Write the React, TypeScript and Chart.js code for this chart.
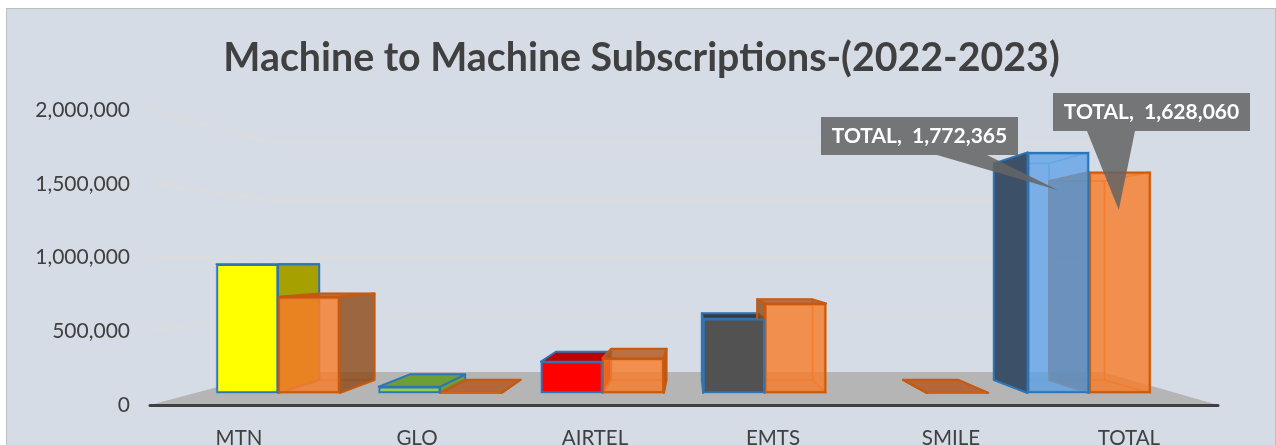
import React, { useEffect, useRef } from "react";
import { Chart, registerables } from "chart.js";

Chart.register(...registerables);

const FONT = "Lato";
const TITLE = "Machine to Machine Subscriptions-(2022-2023)";

const categories = ["MTN", "GLO", "AIRTEL", "EMTS", "SMILE", "TOTAL"];
const subscriptions2022 = [948000, 46365, 231000, 547000, 0, 1772365];
const subscriptions2023 = [708000, 2500, 256000, 660000, 1560, 1628060];
const axisTicks = [0, 500000, 1000000, 1500000, 2000000];

const frontColors2022 = ["#FFFF00", "#92D050", "#FF0000", "#525252", "#525252", "rgba(89,160,230,0.75)"];
const sideColors2022 = ["#A6A000", "#6E9E38", "#C00000", "#3A3A3A", "#3A3A3A", "#3C5068"];
const frontColor2023 = "rgba(248,124,40,0.8)";
const sideColor2023 = "rgba(140,72,22,0.8)";
const topColor2023 = "rgba(180,85,27,0.8)";
const edge2022 = "#2E75B6";
const edge2023 = "#C55A11";

// Perspective of the bars' depth and of the chart's wall/floor.
const barDepth = { vx: 690, vy: 263, k: 0.9 };
const roomDepth = { vx: 703, vy: 258, k: 0.776 };

type Pt = [number, number];
const project = (x: number, y: number, d: { vx: number; vy: number; k: number }): Pt => [
  d.vx + (x - d.vx) * d.k,
  d.vy + (y - d.vy) * d.k,
];

function poly(ctx: CanvasRenderingContext2D, pts: Pt[], fill?: string, stroke?: string, lw = 2) {
  ctx.beginPath();
  pts.forEach((p, i) => (i ? ctx.lineTo(p[0], p[1]) : ctx.moveTo(p[0], p[1])));
  ctx.closePath();
  if (fill) {
    ctx.fillStyle = fill;
    ctx.fill();
  }
  if (stroke) {
    ctx.strokeStyle = stroke;
    ctx.lineWidth = lw;
    ctx.lineJoin = "round";
    ctx.stroke();
  }
}

// Depth faces of one bar; the front face comes from the bar element itself.
function drawDepth(
  ctx: CanvasRenderingContext2D,
  bar: any,
  side: string,
  top: string,
  edge: string,
  inner: string,
) {
  const half = bar.width / 2;
  const l = bar.x - half;
  const r = bar.x + half;
  const t = bar.y;
  const b = bar.base;
  const bl = project(l, t, barDepth);
  const br = project(r, t, barDepth);
  const dl = project(l, b, barDepth);
  const dr = project(r, b, barDepth);

  poly(ctx, [bl, br, dr, dl], undefined, inner, 1.5);
  poly(ctx, [[l, b], [r, b], dr, dl], undefined, inner, 1.5);
  if (r > barDepth.vx) poly(ctx, [[r, t], br, dr, [r, b]], undefined, inner, 1.5);
  if (l < barDepth.vx) poly(ctx, [[l, t], bl, dl, [l, b]], undefined, inner, 1.5);
  if (t < barDepth.vy) poly(ctx, [[l, t], [r, t], br, bl], undefined, inner, 1.5);

  if (l > barDepth.vx) poly(ctx, [[l, t], bl, dl, [l, b]], side, edge);
  if (r < barDepth.vx) poly(ctx, [[r, t], br, dr, [r, b]], side, edge);
  if (t > barDepth.vy) poly(ctx, [[l, t], [r, t], br, bl], top, edge);
}

const room = {
  id: "room",
  beforeDatasetsDraw(chart: any) {
    const { ctx, chartArea: a, scales } = chart;
    const y = scales.y;
    ctx.save();

    // Floor of the plot
    const fl = project(a.left, a.bottom, roomDepth);
    const fr = project(a.right, a.bottom, roomDepth);
    poly(ctx, [[a.left, a.bottom], [a.right, a.bottom], fr, fl], "#B5B5B5");

    // Gridlines run along the left wall, then across the back wall
    ctx.strokeStyle = "#DDDCD9";
    ctx.lineWidth = 1.8;
    axisTicks.slice(1).forEach((v) => {
      const py = y.getPixelForValue(v);
      const p1 = project(a.left, py, roomDepth);
      const p2 = project(a.right, py, roomDepth);
      ctx.beginPath();
      ctx.moveTo(a.left, py - 1);
      ctx.lineTo(p1[0], p1[1]);
      ctx.lineTo(p2[0], p2[1]);
      ctx.stroke();
    });

    // Category axis line
    ctx.strokeStyle = "#404040";
    ctx.lineWidth = 3;
    ctx.lineCap = "round";
    ctx.beginPath();
    ctx.moveTo(a.left, a.bottom + 0.5);
    ctx.lineTo(a.right, a.bottom + 0.5);
    ctx.stroke();

    // Depth faces: the earlier series goes first so the later one sits over it
    const first = chart.getDatasetMeta(0).data;
    const second = chart.getDatasetMeta(1).data;
    first.forEach((bar: any, i: number) => {
      if (subscriptions2022[i] > 0) {
        drawDepth(ctx, bar, sideColors2022[i], sideColors2022[i], edge2022, "rgba(110,175,235,0.6)");
      }
    });
    second.forEach((bar: any) => {
      drawDepth(ctx, bar, sideColor2023, topColor2023, edge2023, "rgba(232,110,30,0.55)");
    });
    ctx.restore();
  },
  afterDatasetsDraw(chart: any) {
    const { ctx } = chart;
    const callouts = [
      { meta: 0, rect: [821, 117, 197, 38], tail: [937, 987], tip: [0, 38] },
      { meta: 1, rect: [1053, 93, 197, 38], tail: [1087, 1135], tip: [-1, 38] },
    ];
    const totals = [subscriptions2022[5], subscriptions2023[5]];
    ctx.save();
    callouts.forEach((c, i) => {
      const bar = chart.getDatasetMeta(c.meta).data[5];
      const [x, y, w, h] = c.rect;
      const tipX = bar.x + c.tip[0];
      const tipY = bar.y + c.tip[1];
      poly(
        ctx,
        [[x, y], [x + w, y], [x + w, y + h], [c.tail[1], y + h], [tipX, tipY], [c.tail[0], y + h], [x, y + h]],
        "rgba(100,100,100,0.86)",
      );
      ctx.fillStyle = "#FFFFFF";
      ctx.font = `bold 21px ${FONT}`;
      ctx.textAlign = "center";
      ctx.textBaseline = "middle";
      ctx.fillText(`${categories[5]},  ${totals[i].toLocaleString("en-US")}`, x + w / 2, y + h / 2);
    });
    ctx.restore();
  },
};

export default function App() {
  const ref = useRef<HTMLCanvasElement>(null);

  useEffect(() => {
    const chart = new Chart(ref.current!, {
      type: "bar",
      data: {
        labels: categories,
        datasets: [
          {
            label: "2022",
            data: subscriptions2022.map((y, x) => ({ x, y })),
            xAxisID: "xBars",
            yAxisID: "yBars",
            backgroundColor: frontColors2022,
            borderColor: subscriptions2022.map((v) => (v > 0 ? edge2022 : "transparent")),
            borderWidth: 2,
            borderSkipped: false,
            barThickness: 61.5,
          },
          {
            label: "2023",
            data: subscriptions2023.map((y, x) => ({ x, y })),
            xAxisID: "xBars",
            yAxisID: "yBars",
            backgroundColor: frontColor2023,
            borderColor: edge2023,
            borderWidth: 2,
            borderSkipped: false,
            barThickness: 61.5,
          },
        ],
      },
      options: {
        animation: false,
        responsive: false,
        layout: { padding: { left: 7, right: 0, top: 5, bottom: 0 } },
        plugins: {
          legend: { display: false },
          tooltip: { enabled: false },
          title: {
            display: true,
            text: TITLE,
            color: "#404040",
            font: { family: FONT, size: 39.3, weight: "bold", lineHeight: 1.2 },
            padding: { top: 30, bottom: 28 },
          },
        },
        scales: {
          x: {
            type: "category",
            offset: true,
            grid: { display: false },
            border: { display: false },
            ticks: { color: "#404040", font: { family: FONT, size: 20.5 }, padding: 13, maxRotation: 0 },
            afterFit: (s: any) => {
              s.height = 40;
            },
          },
          y: {
            min: 0,
            max: 2000000,
            grid: { display: false },
            border: { display: false },
            afterBuildTicks: (s: any) => {
              s.ticks = axisTicks.map((value) => ({ value }));
            },
            ticks: {
              color: "#404040",
              padding: 12,
              font: { family: FONT, size: 21 },
              callback: (v: any) => Number(v).toLocaleString("en-US"),
            },
            afterFit: (s: any) => {
              s.width = 143;
            },
          },
          // Bars stand on a plane set back from the axes, so they use their own scales.
          xBars: { type: "linear", display: false, offset: false, min: -0.7892, max: 5.795 },
          // Unlabelled, on the right: it also reserves the margin beside the plot.
          yBars: {
            type: "linear",
            position: "right",
            min: -88320,
            max: 2082880,
            grid: { display: false },
            border: { display: false },
            ticks: { display: false },
            afterFit: (s: any) => {
              s.width = 58;
            },
          },
        },
      },
      plugins: [room],
    } as any);
    return () => chart.destroy();
  }, []);

  return (
    <div
      style={{
        position: "fixed",
        left: 0,
        top: 0,
        width: 1276,
        height: 445,
        background: "#FFFFFF",
        overflow: "hidden",
      }}
    >
      <div
        style={{
          position: "absolute",
          left: 6,
          top: 8,
          width: 1268,
          height: 445,
          background: "#D6DCE5",
          border: "1.5px solid #BFBFBF",
        }}
      />
      <canvas ref={ref} width={1276} height={445} style={{ position: "absolute", left: 0, top: 0, display: "block" }} />
    </div>
  );
}
